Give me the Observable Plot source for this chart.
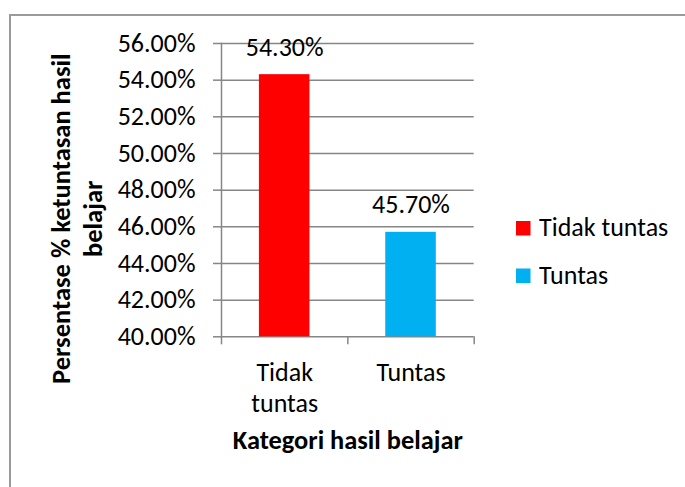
<!DOCTYPE html>
<html>
<head>
<meta charset="utf-8">
<script src="https://cdn.jsdelivr.net/npm/d3@7"></script>
<script src="https://cdn.jsdelivr.net/npm/@observablehq/plot@0.6"></script>
<style>
  html, body { margin: 0; padding: 0; background: #fff; overflow: hidden; }
  #wrap { position: relative; width: 685px; height: 487px; overflow: hidden; font-family: Carlito, Calibri, sans-serif; }
  #wrap svg { position: absolute; left: 0; top: 0; }
  #border { position: absolute; left: 9px; top: 14px; width: 720px; height: 520px; border: 2px solid #9a9a9a; box-sizing: border-box; }
</style>
</head>
<body>
<div id="wrap">
  <div id="border"></div>
</div>
<script>
// ---- data ----
const categories = ["Tidak tuntas", "Tuntas"];
const values = [0.543, 0.457];
const colors = ["#FF0000", "#00B0F0"];
const yDomain = [0.40, 0.56];
const yTicks = [0.40, 0.42, 0.44, 0.46, 0.48, 0.50, 0.52, 0.54, 0.56];
const xTitle = "Kategori hasil belajar";
const yTitle = "Persentase % ketuntasan hasil\nbelajar";

const fmt = d3.format(".2%");
const data = categories.map((c, i) => ({category: c, value: values[i], color: colors[i], index: i}));
const boundaries = d3.range(categories.length + 1).map(i => i - 0.5);
const barHalf = 0.2;
const gray = "#868686";
const font = "Carlito, Calibri, sans-serif";

const chart = Plot.plot({
  width: 685,
  height: 487,
  marginLeft: 221,
  marginRight: 211.3,
  marginTop: 43,
  marginBottom: 150.7,
  style: {fontFamily: font, background: "transparent", color: "#000"},
  x: {domain: [-0.5, categories.length - 0.5], axis: null},
  y: {domain: yDomain, axis: null},
  color: {type: "identity"},
  marks: [
    Plot.gridY(yTicks, {stroke: gray, strokeOpacity: 1, strokeWidth: 1.5}),
    Plot.axisY({ticks: yTicks, tickSize: 8, tickPadding: 18, tickFormat: fmt, fontSize: 26,
                stroke: gray, strokeWidth: 1.5, strokeOpacity: 1, fill: "#000", label: null}),
    Plot.frame({anchor: "left", stroke: gray, strokeWidth: 1.5}),
    Plot.axisX({ticks: boundaries, tickSize: 8, tickFormat: () => "", stroke: gray, strokeWidth: 1.5, label: null}),
    Plot.rectY(data, {x1: d => d.index - barHalf, x2: d => d.index + barHalf, y1: yDomain[0], y2: "value", fill: "color"}),
    Plot.text(data, {x: "index", y: "value", text: d => fmt(d.value), dy: -19, lineAnchor: "bottom",
                     fontSize: 26, fill: "#000"}),
    Plot.text(data, {x: "index", text: d => d.category.replace(" ", "\n"), frameAnchor: "bottom", lineAnchor: "top",
                     dy: 21.2, fontSize: 26, lineHeight: 1.22, fill: "#000"}),
    Plot.text([xTitle], {frameAnchor: "bottom", lineAnchor: "bottom", dy: 112, fontSize: 26.4, fontWeight: "bold", fill: "#000"}),
    Plot.text([yTitle], {frameAnchor: "left", rotate: -90, textAnchor: "middle", lineAnchor: "bottom",
                         dx: -119.5, dy: 28.6, fontSize: 26.5, fontWeight: "bold", lineHeight: 1.22, fill: "#000"})
  ]
});

const wrap = document.getElementById("wrap");
wrap.appendChild(chart);

// legend (vertical, right of the plot)
const legend = d3.create("svg")
  .attr("width", 685).attr("height", 487)
  .attr("font-family", font).attr("font-size", 26);
const rowBaselines = [236, 283.5];
categories.forEach((c, i) => {
  legend.append("rect")
    .attr("x", 516).attr("y", rowBaselines[i] - 15)
    .attr("width", 14.5).attr("height", 14.5)
    .attr("fill", colors[i]);
  legend.append("text")
    .attr("x", 539).attr("y", rowBaselines[i])
    .attr("fill", "#000")
    .text(c);
});
wrap.appendChild(legend.node());
</script>
</body>
</html>
